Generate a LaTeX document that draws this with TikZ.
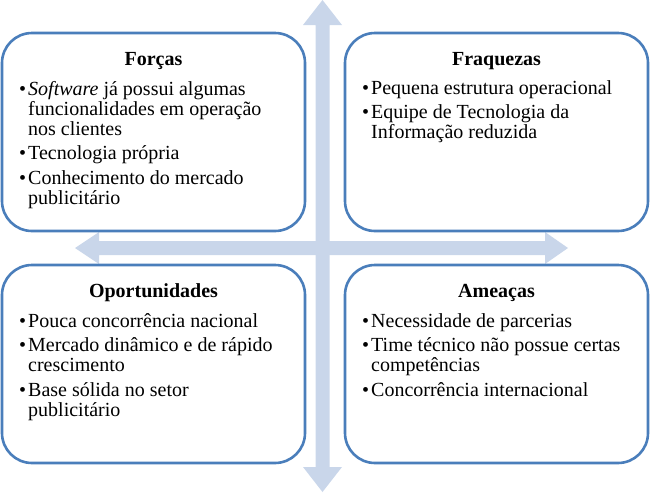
\documentclass[tikz,border=0pt]{standalone}
\usepackage{fontspec}
\setmainfont{Liberation Serif}
\definecolor{boxline}{RGB}{74,126,187}
\definecolor{arrowfill}{RGB}{201,214,234}
\newcommand\bul{\makebox[9pt][l]{•}}
\newcommand\ind{\hspace*{9pt}}
\begin{document}
\begin{tikzpicture}[x=1pt,y=-1pt,
  swotbox/.style={draw=boxline, line width=2.6pt, fill=white, rounded corners=30pt,
    minimum width=303pt, minimum height=198pt, anchor=north west, inner sep=0pt, outer sep=0pt},
  boxtitle/.style={font=\fontsize{20}{20}\selectfont\bfseries, anchor=base, inner sep=0pt},
  boxitems/.style={font=\fontsize{20}{20}\selectfont, anchor=base west, inner sep=0pt}]
\useasboundingbox (0,0) rectangle (650,493);
% background arrows
\fill[arrowfill] (322.5,0) -- (342,25) -- (329.5,25) -- (329.5,467) -- (342,467) -- (322.5,492)
  -- (303,467) -- (315.5,467) -- (315.5,25) -- (303,25) -- cycle;
\fill[arrowfill] (75,248) -- (99,232) -- (99,241) -- (545,241) -- (545,232) -- (568,248)
  -- (545,264) -- (545,255) -- (99,255) -- (99,264) -- cycle;
% boxes
\node[swotbox] (forcas) at (2,33) {};
\node[swotbox] (fraquezas) at (345,33) {};
\node[swotbox] (oport) at (2,265) {};
\node[swotbox] (ameacas) at (345,265) {};
% titles
\node[boxtitle] (tforcas) at ([yshift=-32pt]forcas.north) {Forças};
\node[boxtitle] (tfraquezas) at ([yshift=-32pt]fraquezas.north) {Fraquezas};
\node[boxtitle] (toport) at ([yshift=-32pt]oport.north) {Oportunidades};
\node[boxtitle] (tameacas) at ([yshift=-32pt]ameacas.north) {Ameaças};
% items
\node[boxitems] (lforcas) at ([xshift=17pt,yshift=-62pt]forcas.north west)
 {\parbox[t]{285pt}{\raggedright
  \bul\textit{Software} já possui algumas\\
  \ind funcionalidades em operação\\
  \ind nos clientes\\[4.5pt]
  \bul Tecnologia própria\\[4.5pt]
  \bul Conhecimento do mercado\\
  \ind publicitário}};
\node[boxitems] (lfraquezas) at ([xshift=17pt,yshift=-61pt]fraquezas.north west)
 {\parbox[t]{285pt}{\raggedright
  \bul Pequena estrutura operacional\\[4.5pt]
  \bul Equipe de Tecnologia da\\
  \ind Informação reduzida}};
\node[boxitems] (loport) at ([xshift=17pt,yshift=-62pt]oport.north west)
 {\parbox[t]{285pt}{\raggedright
  \bul Pouca concorrência nacional\\[4.5pt]
  \bul Mercado dinâmico e de rápido\\
  \ind crescimento\\[4.5pt]
  \bul Base sólida no setor\\
  \ind publicitário}};
\node[boxitems] (lameacas) at ([xshift=17pt,yshift=-62pt]ameacas.north west)
 {\parbox[t]{285pt}{\raggedright
  \bul Necessidade de parcerias\\[4.5pt]
  \bul Time técnico não possue certas\\
  \ind competências\\[4.5pt]
  \bul Concorrência internacional}};
\end{tikzpicture}
\end{document}
